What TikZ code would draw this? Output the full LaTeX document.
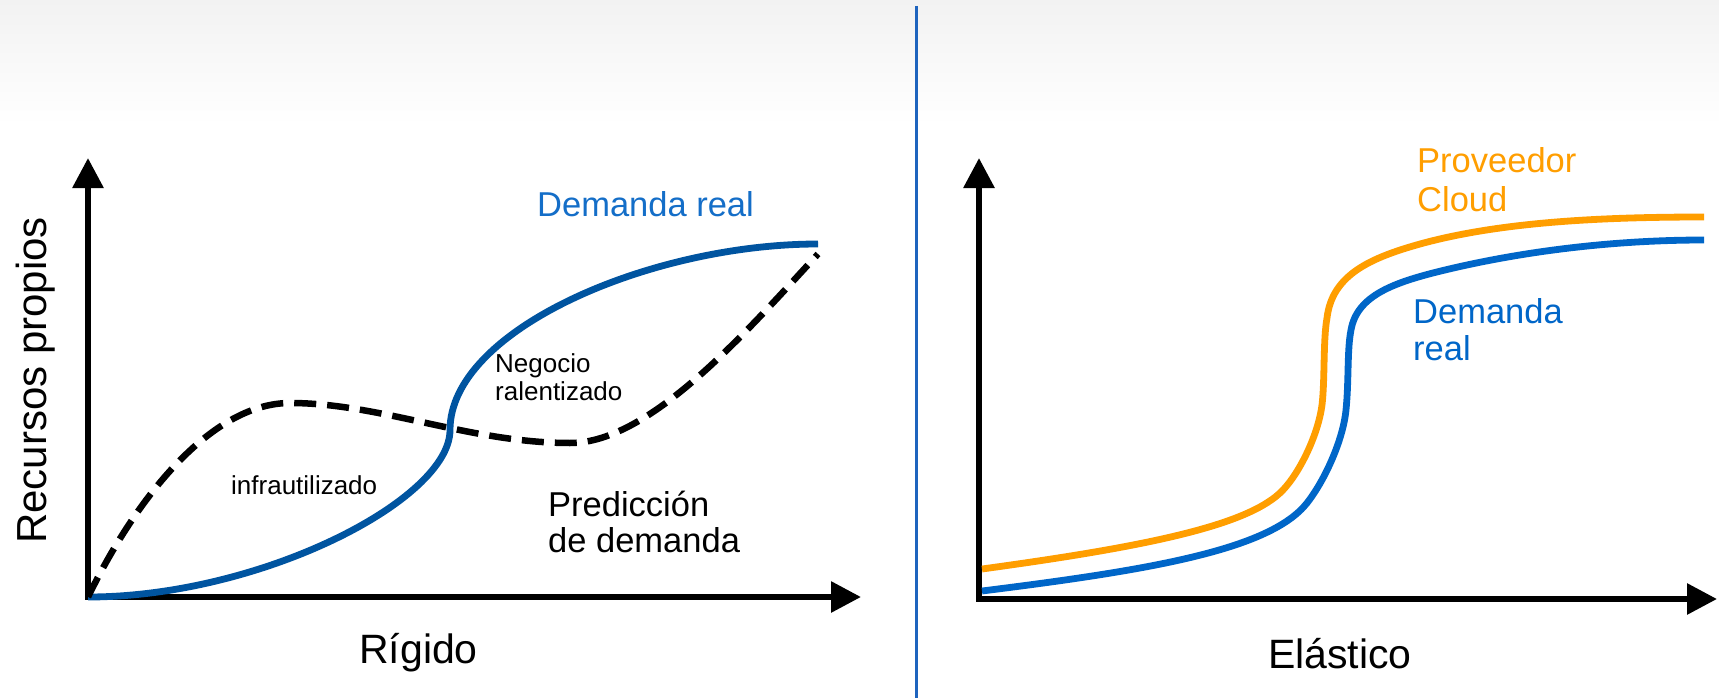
\documentclass[tikz,border=0pt]{standalone}
\usepackage{fontspec}
\setmainfont{Liberation Sans}
\usetikzlibrary{arrows.meta}
\definecolor{bgtop}{RGB}{242,242,242}
\definecolor{divblue}{RGB}{30,100,190}
\definecolor{darkblue}{RGB}{0,84,160}
\definecolor{txtblue}{RGB}{20,110,200}
\definecolor{midblue}{RGB}{0,102,200}
\definecolor{cloudorange}{RGB}{255,158,0}
\begin{document}
\begin{tikzpicture}[x=1pt,y=-1pt,
  axisline/.style={line width=6pt, line join=miter,
    {Triangle[length=30pt,width=30pt]}-{Triangle[length=30pt,width=30pt]}},
  curve/.style={line width=6.8pt},
  dashcurve/.style={line width=6.5pt, black, dash pattern=on 22pt off 11pt},
  lbl/.style={inner sep=0pt, anchor=base west},
  big/.style={lbl, font=\fontsize{41}{48}\selectfont},
  mid/.style={lbl, font=\fontsize{34.5}{41}\selectfont},
  small/.style={lbl, font=\fontsize{26}{31}\selectfont}]
\useasboundingbox (0,0) rectangle (1719,698);
\fill[white] (0,0) rectangle (1719,698);
\shade[top color=bgtop, bottom color=white] (0,0) rectangle (1719,125);
% divider
\draw[divblue, line width=3pt] (916,6) -- (916,698);

% ---------- left chart ----------
\coordinate (lTop) at (88,158);
\coordinate (lO) at (88,597);
\coordinate (lRight) at (861,597);
\draw[axisline] (lTop) -- (lO) -- (lRight);

\coordinate (lCross) at (450,430);
\coordinate (lEnd) at (818,244);
\draw[curve, darkblue] (lO) .. controls (260,597) and (450,500) .. (lCross)
   .. controls (450,330) and (650,244) .. (lEnd);

\coordinate (dPeak) at (290,403);
\coordinate (dLow) at (570,443);
\coordinate (dEnd) at (818,254);
\draw[dashcurve] (lO) .. controls (140,490) and (215,403) .. (dPeak)
   .. controls (380,403) and (470,443) .. (dLow)
   .. controls (650,443) and (745,333) .. (dEnd);

\node[mid, text=txtblue] (demL) at (537,216) {Demanda real};
\node[lbl, rotate=90, font=\fontsize{42}{50}\selectfont] (ylab) at (46,544) {Recursos propios};
\node[big] (rigido) at (359,663) {Rígido};
\node[mid] (pred1) at (548,516) {Predicción};
\node[mid] (pred2) at (548,552) {de demanda};
\node[small] (infra) at (231,494) {infrautilizado};
\node[small] (neg1) at (495,372) {Negocio};
\node[small] (neg2) at (495,400) {ralentizado};

% ---------- right chart ----------
\coordinate (rTop) at (979,158);
\coordinate (rO) at (979,599);
\coordinate (rRight) at (1717,599);
\draw[axisline] (rTop) -- (rO) -- (rRight);

\coordinate (oStart) at (982,569);
\coordinate (oEnd) at (1704,217);
\draw[curve, cloudorange] (oStart)
   .. controls (1150,546) and (1250,525) .. (1283,490)
   .. controls (1300,472) and (1318,435) .. (1322,405)
   .. controls (1325,380) and (1323,340) .. (1327,318)
   .. controls (1332,275) and (1370,258) .. (1420,244)
   .. controls (1500,222) and (1600,217) .. (oEnd);

\coordinate (bStart) at (982,591);
\coordinate (bEnd) at (1704,240);
\draw[curve, midblue] (bStart)
   .. controls (1150,570) and (1270,550) .. (1307,503)
   .. controls (1325,480) and (1343,440) .. (1346,410)
   .. controls (1349,380) and (1347,350) .. (1351,330)
   .. controls (1357,295) and (1395,282) .. (1445,270)
   .. controls (1520,252) and (1610,240) .. (bEnd);

\node[mid, text=cloudorange] (prov1) at (1417,172) {Proveedor};
\node[mid, text=cloudorange] (prov2) at (1417,211) {Cloud};
\node[mid, text=midblue] (demR1) at (1413,323) {Demanda};
\node[mid, text=midblue] (demR2) at (1413,360) {real};
\node[big] (elastico) at (1268,668) {Elástico};
\end{tikzpicture}
\end{document}
